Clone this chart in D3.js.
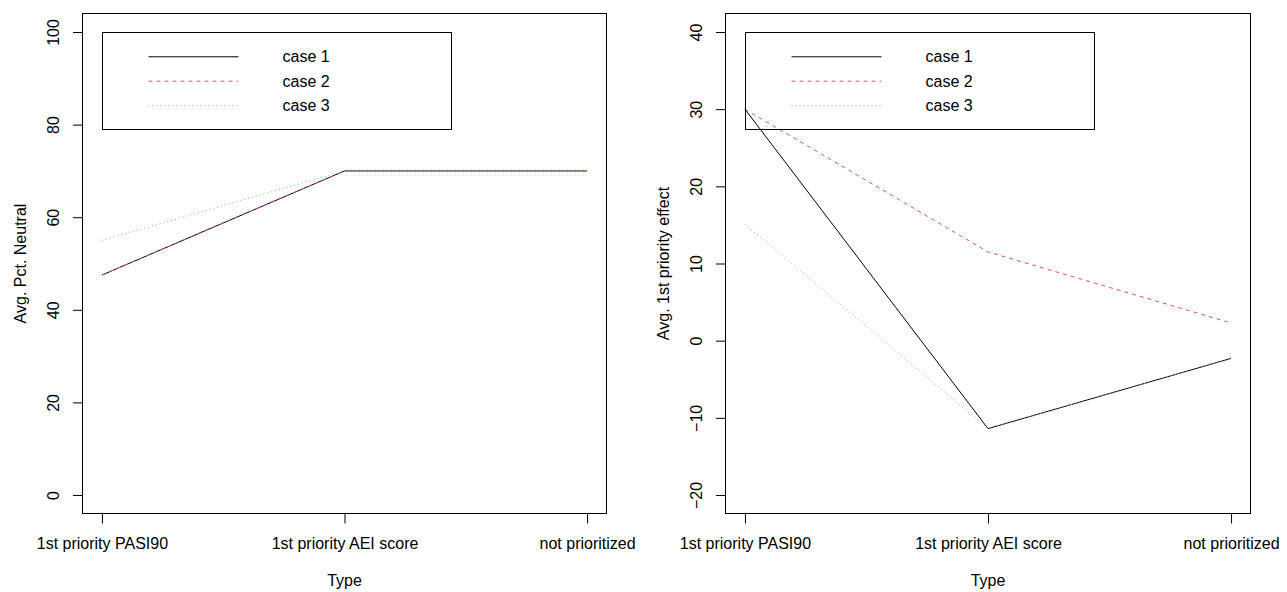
<!DOCTYPE html>
<html>
<head>
<meta charset="utf-8">
<script src="https://cdn.jsdelivr.net/npm/d3@7"></script>
<style>
  body { margin: 0; background: #fff; }
  svg { display: block; font-family: "Liberation Sans", Arial, sans-serif; }
  .tick text, .label, .legend text { font-size: 16px; fill: #000; }
</style>
</head>
<body>
<svg id="chart" width="1287" height="592"></svg>
<script>
// categories on the x axis
var categories = ["1st priority PASI90", "1st priority AEI score", "not prioritized"];
var caseNames = ["case 1", "case 2", "case 3"];

// left panel: average percent neutral
var neutralCase1 = [47.5, 70, 70];
var neutralCase2 = [47.5, 70, 70];
var neutralCase3 = [55, 70, 70];
var neutralTicks = [0, 20, 40, 60, 80, 100];

// right panel: average 1st priority effect
var effectCase1 = [30, -11.4, -2.3];
var effectCase2 = [30, 11.5, 2.3];
var effectCase3 = [15.1, -11.4, -2.3];
var effectTicks = [-20, -10, 0, 10, 20, 30, 40];

var colors = ["#000000", "#DF536B", "#61D04F"];
var dashes = [null, "4,4", "1,3"];

var svg = d3.select("#chart");

function drawPanel(left, right, series, ylim, yTicks, yTitle) {
  var top = 13.5, bottom = 513.5;
  var g = svg.append("g");

  var x = d3.scaleLinear().domain([0.92, 3.08]).range([left, right]);
  var span = ylim[1] - ylim[0];
  var y = d3.scaleLinear()
    .domain([ylim[0] - 0.04 * span, ylim[1] + 0.04 * span])
    .range([bottom, top]);

  // data lines, case 1 first so later cases sit on top
  var line = d3.line()
    .x(function(d, i) { return x(i + 1); })
    .y(function(d) { return y(d); });

  series.forEach(function(s, k) {
    g.append("path")
      .attr("d", line(s))
      .attr("fill", "none")
      .attr("stroke", colors[k])
      .attr("stroke-width", 1)
      .attr("stroke-dasharray", dashes[k]);
  });

  // x axis
  var xAxis = d3.axisBottom(x)
    .tickValues([1, 2, 3])
    .tickSize(10)
    .tickSizeOuter(0)
    .tickPadding(14.5)
    .tickFormat(function(d) { return categories[d - 1]; });

  g.append("g")
    .attr("transform", "translate(0," + bottom + ")")
    .call(xAxis)
    .call(function(a) { a.select(".domain").remove(); });

  // y axis, labels turned like base R
  var yAxis = d3.axisLeft(y)
    .tickValues(yTicks)
    .tickSize(9.5)
    .tickSizeOuter(0);

  g.append("g")
    .attr("transform", "translate(" + left + ",0)")
    .call(yAxis)
    .call(function(a) {
      a.select(".domain").remove();
      a.selectAll(".tick text")
        .attr("x", null)
        .attr("dy", null)
        .attr("text-anchor", "middle")
        .attr("transform", "translate(-23.5,0) rotate(-90)");
    });

  g.selectAll(".tick line").attr("stroke", "#000");
  g.selectAll(".tick text").attr("font-family", null).attr("font-size", null);

  // frame
  g.append("rect")
    .attr("x", left).attr("y", top)
    .attr("width", right - left).attr("height", bottom - top)
    .attr("fill", "none")
    .attr("stroke", "#000");

  // axis titles
  g.append("text")
    .attr("class", "label")
    .attr("x", (left + right) / 2)
    .attr("y", 586)
    .attr("text-anchor", "middle")
    .text("Type");

  g.append("text")
    .attr("class", "label")
    .attr("text-anchor", "middle")
    .attr("transform", "translate(" + (left - 56.5) + "," + ((top + bottom) / 2) + ") rotate(-90)")
    .text(yTitle);

  // legend at (1, upper ylim), no fill like base R
  var lx = Math.round(x(1)) + 0.5;
  var ly = Math.round(y(ylim[1])) + 0.5;
  var legend = g.append("g").attr("class", "legend");

  legend.append("rect")
    .attr("x", lx).attr("y", ly)
    .attr("width", 349).attr("height", 97)
    .attr("fill", "none")
    .attr("stroke", "#000");

  caseNames.forEach(function(name, k) {
    var ry = ly + 24.3 + k * 24.4;
    legend.append("line")
      .attr("x1", lx + 46).attr("x2", lx + 136)
      .attr("y1", ry).attr("y2", ry)
      .attr("stroke", colors[k])
      .attr("stroke-dasharray", dashes[k]);
    legend.append("text")
      .attr("x", lx + 180)
      .attr("y", ry)
      .attr("dy", "0.35em")
      .text(name);
  });
}

drawPanel(82.5, 606.5, [neutralCase1, neutralCase2, neutralCase3],
  [0, 100], neutralTicks, "Avg. Pct. Neutral");

drawPanel(725.5, 1250.5, [effectCase1, effectCase2, effectCase3],
  [-20, 40], effectTicks, "Avg. 1st priority effect");
</script>
</body>
</html>
